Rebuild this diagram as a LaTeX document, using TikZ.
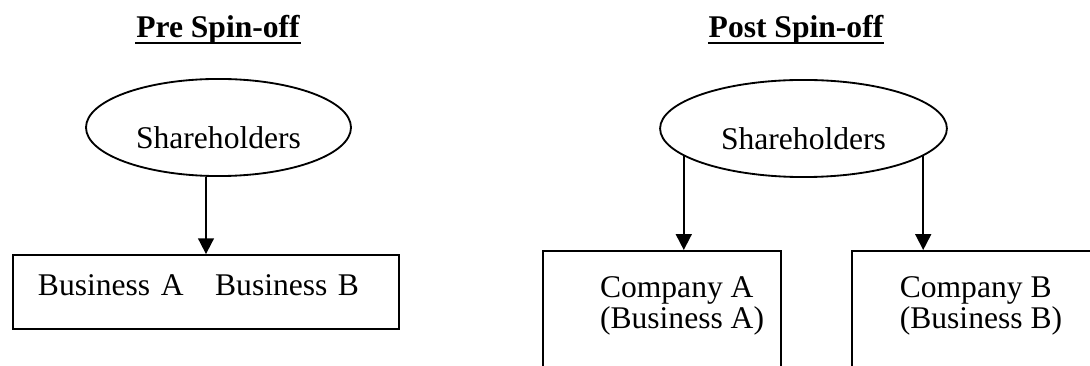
\documentclass[tikz,border=0pt]{standalone}
\usepackage{fontspec}
\setmainfont{Liberation Serif}
\usepackage{tikz}
\usetikzlibrary{shapes.geometric, arrows.meta, positioning}

\tikzset{
  holders/.style={ellipse, draw, minimum height=36.9pt, inner sep=0pt,
                  text height=15.6pt, text depth=0pt},
  unitbox/.style={draw, rectangle, inner sep=0pt},
  unittext/.style={align=left, inner sep=0pt},
  heading/.style={font=\fontsize{12}{14}\selectfont\bfseries, inner sep=0pt, anchor=base},
  owns/.style={-{Triangle[width=6pt, length=6pt]}},
}

\begin{document}
\begin{tikzpicture}[x=0.38pt, y=-0.38pt, line width=0.7pt,
                    font=\fontsize{12}{11.8}\selectfont]
  \useasboundingbox (0,0) rectangle (1090,366);
  \clip (0,0) rectangle (1090,366);

  \node[heading] (pretitle) at (218,38) {Pre Spin-off};
  \node[heading] (posttitle) at (796,38) {Post Spin-off};
  \draw[line width=0.8pt] ([yshift=-1.9pt]pretitle.base west) -- ([yshift=-1.9pt]pretitle.base east);
  \draw[line width=0.8pt] ([yshift=-1.9pt]posttitle.base west) -- ([yshift=-1.9pt]posttitle.base east);

  \node[holders, minimum width=100.7pt] (preholders) at (218.5,127.5) {Shareholders};
  \node[unitbox, minimum width=146.7pt, minimum height=28.1pt, text width=127.7pt,
        inner xsep=9.5pt, align=left, text height=8pt, text depth=5pt] (prebox) at (206,292)
        {Business A\quad Business B};
  \draw[owns] (preholders.south -| prebox.north) -- (prebox.north);

  \node[holders, minimum width=109pt] (postholders) at (803.5,128.5) {Shareholders};
  \node[unitbox, anchor=north west, minimum width=90.4pt, minimum height=64.6pt] (companyA) at (542,250) {};
  \node[unitbox, anchor=north west, minimum width=98.8pt, minimum height=64.6pt] (companyB) at (851,250) {};
  \node[unittext, below right=9.9pt and 21.7pt of companyA.north west] (companyAtext) {Company A\\(Business A)};
  \node[unittext, below right=9.9pt and 18.2pt of companyB.north west] (companyBtext) {Company B\\(Business B)};
  \draw[owns] (postholders.193) -- (postholders.193 |- companyA.north);
  \draw[owns] (postholders.347) -- (postholders.347 |- companyB.north);
\end{tikzpicture}
\end{document}
